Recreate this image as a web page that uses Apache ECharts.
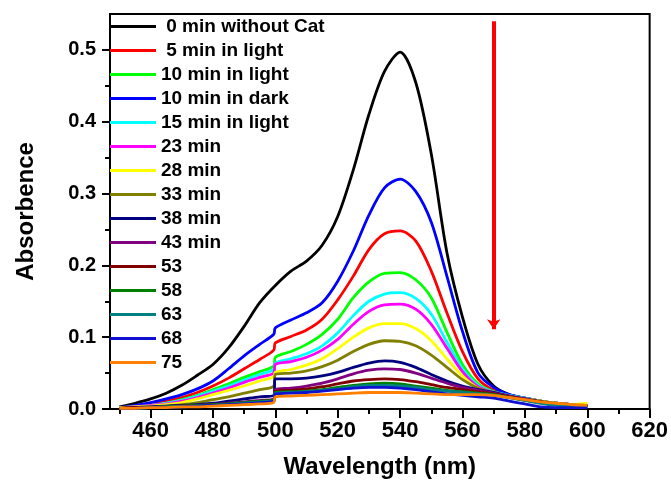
<!DOCTYPE html>
<html>
<head>
<meta charset="utf-8">
<script src="https://cdn.jsdelivr.net/npm/echarts@6/dist/echarts.min.js"></script>
<style>
html,body{margin:0;padding:0;background:#fff;}
#pic0{width:671px;height:485px;}
</style>
</head>
<body>
<div id="pic0"></div>
<script>
// wavelength (nm), 499.5/500 pair = lamp step seen on the curves
var wavelength = [450,455,460,465,470,475,480,485,490,495,499.5,500,505,510,515,520,525,530,535,540,545,550,555,560,565,570,575,580,585,590,595,600];

// null = no point there (black curve has no step)
var a0   = [0.003,0.008,0.014,0.022,0.033,0.047,0.062,0.085,0.115,0.148,null,0.172,0.192,0.206,0.228,0.268,0.333,0.41,0.47,0.497,0.455,0.355,0.218,0.128,0.062,0.032,0.02,0.015,0.011,0.008,0.006,0.005];
var a5   = [0.002,0.004,0.007,0.011,0.016,0.023,0.032,0.043,0.056,0.069,0.082,0.092,0.101,0.11,0.125,0.152,0.185,0.222,0.244,0.248,0.234,0.192,0.134,0.08,0.042,0.026,0.019,0.015,0.011,0.008,0.006,0.005];
var a10  = [0.002,0.003,0.005,0.008,0.013,0.019,0.027,0.035,0.044,0.052,0.06,0.072,0.08,0.09,0.104,0.125,0.155,0.177,0.189,0.19,0.18,0.155,0.107,0.062,0.035,0.024,0.018,0.014,0.011,0.008,0.006,0.005];
var a10d = [0.002,0.005,0.009,0.014,0.02,0.028,0.039,0.056,0.074,0.09,0.104,0.113,0.124,0.134,0.148,0.178,0.22,0.27,0.308,0.32,0.303,0.26,0.185,0.108,0.05,0.03,0.02,0.015,0.011,0.008,0.006,0.005];
var a15  = [0.002,0.003,0.005,0.008,0.012,0.018,0.025,0.032,0.04,0.048,0.055,0.064,0.07,0.077,0.088,0.106,0.13,0.15,0.16,0.162,0.154,0.132,0.093,0.056,0.033,0.024,0.019,0.015,0.011,0.008,0.006,0.005];
var a23  = [0.002,0.003,0.005,0.007,0.011,0.016,0.022,0.029,0.037,0.044,0.05,0.062,0.066,0.072,0.082,0.097,0.118,0.136,0.145,0.146,0.139,0.118,0.085,0.052,0.031,0.023,0.018,0.014,0.011,0.008,0.006,0.005];
var a28  = [0.002,0.003,0.004,0.006,0.009,0.014,0.02,0.026,0.032,0.039,0.045,0.051,0.055,0.061,0.07,0.084,0.1,0.113,0.119,0.119,0.112,0.095,0.07,0.046,0.029,0.022,0.018,0.014,0.011,0.008,0.006,0.008];
var a33  = [0.001,0.002,0.003,0.004,0.006,0.009,0.013,0.017,0.022,0.027,0.032,0.048,0.05,0.053,0.059,0.068,0.08,0.09,0.095,0.094,0.088,0.075,0.058,0.041,0.029,0.023,0.018,0.014,0.011,0.008,0.006,0.005];
var a38  = [0.001,0.002,0.003,0.004,0.005,0.006,0.008,0.011,0.014,0.017,0.019,0.042,0.042,0.043,0.046,0.051,0.058,0.064,0.067,0.065,0.058,0.048,0.039,0.032,0.027,0.023,0.018,0.014,0.01,0.007,0.005,0.004];
var a43  = [0.001,0.002,0.002,0.003,0.004,0.005,0.006,0.008,0.01,0.012,0.014,0.027,0.029,0.032,0.036,0.042,0.049,0.054,0.056,0.055,0.05,0.043,0.036,0.03,0.026,0.022,0.018,0.014,0.01,0.007,0.005,0.004];
var a53  = [0.001,0.002,0.002,0.003,0.004,0.005,0.006,0.007,0.009,0.011,0.013,0.025,0.026,0.028,0.031,0.035,0.039,0.041,0.042,0.041,0.038,0.034,0.03,0.027,0.024,0.021,0.017,0.013,0.01,0.007,0.005,0.004];
var a58  = [0.001,0.001,0.002,0.003,0.004,0.005,0.006,0.007,0.009,0.011,0.013,0.023,0.024,0.025,0.027,0.03,0.033,0.035,0.036,0.035,0.032,0.029,0.026,0.024,0.022,0.02,0.016,0.012,0.009,0.006,0.004,0.003];
var a63  = [0.001,0.001,0.002,0.003,0.003,0.004,0.005,0.006,0.008,0.01,0.012,0.022,0.023,0.024,0.026,0.028,0.031,0.033,0.033,0.032,0.03,0.027,0.025,0.023,0.021,0.019,0.016,0.012,0.008,0.005,0.004,0.003];
var a68  = [0.001,0.001,0.002,0.002,0.003,0.004,0.005,0.006,0.007,0.009,0.011,0.021,0.022,0.023,0.025,0.027,0.029,0.03,0.03,0.029,0.027,0.024,0.021,0.019,0.017,0.015,0.011,0.007,0.003,0.002,0.002,0.002];
var a75  = [0.001,0.001,0.002,0.002,0.003,0.003,0.004,0.005,0.006,0.007,0.009,0.017,0.018,0.019,0.02,0.021,0.022,0.023,0.023,0.023,0.022,0.021,0.02,0.02,0.02,0.019,0.016,0.013,0.01,0.008,0.006,0.005];

var names = [' 0 min without Cat',' 5 min in light','10 min in light','10 min in dark','15 min in light','23 min','28 min','33 min','38 min','43 min','53','58','63','68','75'];
var allData = [a0,a5,a10,a10d,a15,a23,a28,a33,a38,a43,a53,a58,a63,a68,a75];
var colors = ['#000000','#ff0000','#00ff00','#0000ff','#00ffff','#ff00ff','#ffff00','#808000','#000080','#800080','#800000','#008000','#008080','#1010d0','#ff8000'];

var xMajor = [460,480,500,520,540,560,580,600,620];
var xMinor = [450,470,490,510,530,550,570,590,610];
var yMajor = [0,0.1,0.2,0.3,0.4,0.5];
var yMinor = [0.05,0.15,0.25,0.35,0.45];

var fontName = "'Liberation Sans', Arial, sans-serif";

var myChart = echarts.init(document.getElementById('pic0'));

var seriesList = [];
for (var i = 0; i < allData.length; i++) {
    var vals = allData[i];
    var pts = [];
    for (var j = 0; j < wavelength.length; j++) {
        if (vals[j] !== null) pts.push([wavelength[j], vals[j]]);
    }
    seriesList.push({
        name: names[i],
        type: 'line',
        symbol: 'none',
        smooth: 0.3,
        data: pts,
        lineStyle: {width: 2.8, color: colors[i]},
        itemStyle: {color: colors[i]}
    });
}
// red arrow (decrease with time)
seriesList[0].markLine = {
    silent: true,
    symbol: ['none', 'arrow'],
    symbolSize: 10,
    label: {show: false},
    lineStyle: {color: '#ff0000', width: 4, type: 'solid'},
    data: [[{coord: [570, 0.54]}, {coord: [570, 0.111]}]]
};

var option = {
    animation: false,
    grid: {left: 110, right: 19, top: 14, bottom: 76, show: true, borderColor: '#000', borderWidth: 2},
    legend: {
        orient: 'vertical',
        left: 105,
        top: 12,
        icon: 'rect',
        itemWidth: 46,
        itemHeight: 3,
        itemGap: 5,
        data: names,
        textStyle: {fontFamily: fontName, fontSize: 19, fontWeight: 'bold', color: '#000', lineHeight: 19}
    },
    xAxis: [
        {
            type: 'value', min: 447, max: 620,
            name: 'Wavelength (nm)', nameLocation: 'middle', nameGap: 46,
            nameTextStyle: {fontFamily: fontName, fontSize: 24, fontWeight: 'bold', color: '#000'},
            axisLine: {show: true, lineStyle: {color: '#000', width: 2}},
            axisTick: {show: true, customValues: xMajor, length: 9, lineStyle: {color: '#000', width: 2}},
            axisLabel: {customValues: xMajor, margin: 11, fontFamily: fontName, fontSize: 22, fontWeight: 'bold', color: '#000'},
            splitLine: {show: false}
        },
        {
            type: 'value', min: 447, max: 620, position: 'bottom',
            axisLine: {show: false},
            axisTick: {show: true, customValues: xMinor, length: 5, lineStyle: {color: '#000', width: 2}},
            axisLabel: {show: false},
            splitLine: {show: false}
        }
    ],
    yAxis: [
        {
            type: 'value', min: 0, max: 0.55,
            name: 'Absorbence', nameLocation: 'middle', nameGap: 72,
            nameTextStyle: {fontFamily: fontName, fontSize: 24, fontWeight: 'bold', color: '#000'},
            axisLine: {show: true, lineStyle: {color: '#000', width: 2}},
            axisTick: {show: true, customValues: yMajor, length: 8, lineStyle: {color: '#000', width: 2}},
            axisLabel: {customValues: yMajor, margin: 14, fontFamily: fontName, fontSize: 20, fontWeight: 'bold', color: '#000',
                formatter: function (v) { return v.toFixed(1); }},
            splitLine: {show: false}
        },
        {
            type: 'value', min: 0, max: 0.55, position: 'left',
            axisLine: {show: false},
            axisTick: {show: true, customValues: yMinor, length: 5, lineStyle: {color: '#000', width: 2}},
            axisLabel: {show: false},
            splitLine: {show: false}
        }
    ],
    series: seriesList
};

myChart.setOption(option);
</script>
</body>
</html>
